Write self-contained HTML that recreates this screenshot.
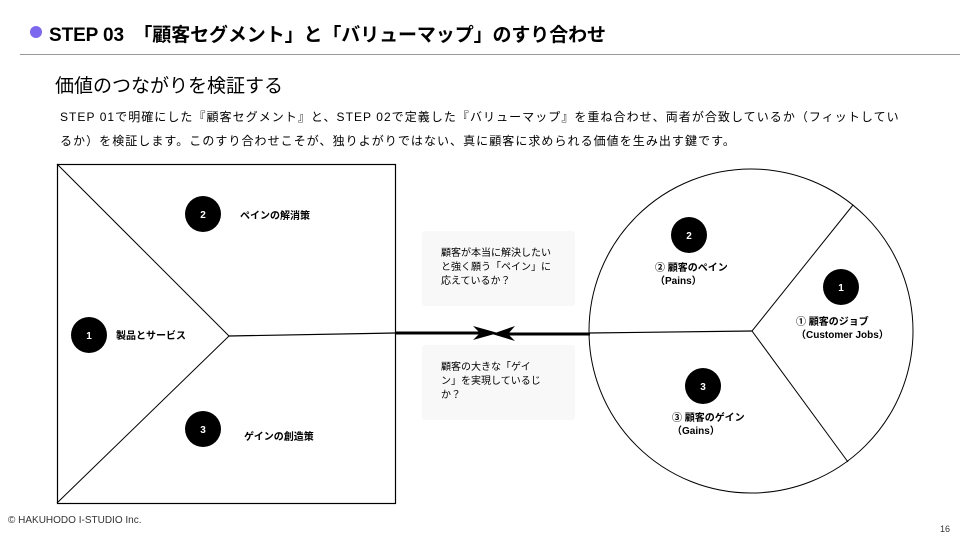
<!DOCTYPE html>
<html><head><meta charset="utf-8"><style>
body{margin:0;width:960px;height:540px;background:#fff;font-family:"Liberation Sans","Noto Sans CJK JP",sans-serif;position:relative;overflow:hidden;color:#000}
.a{position:absolute;white-space:nowrap}
</style></head><body>
<div class="a" style="left:30px;top:26px;width:12px;height:12px;border-radius:50%;background:#7b68ee"></div>
<div class="a" style="left:49px;top:20px;font-size:19px;font-weight:bold;letter-spacing:-0.1px">STEP 03　「顧客セグメント」と「バリューマップ」のすり合わせ</div>
<div class="a" style="left:20px;top:54px;width:948px;height:1px;background:#999"></div>
<div class="a" style="left:55px;top:71px;font-size:19px">価値のつながりを検証する</div>
<div class="a" style="left:60px;top:105px;font-size:12px;line-height:24px;letter-spacing:1.05px">STEP 01で明確にした『顧客セグメント』と、STEP 02で定義した『バリューマップ』を重ね合わせ、両者が合致しているか（フィットしてい<br>るか）を検証します。このすり合わせこそが、独りよがりではない、真に顧客に求められる価値を生み出す鍵です。</div>
<div class="a" style="left:422px;top:231px;width:153px;height:75px;background:#f8f8f8;border-radius:3px"></div>
<div class="a" style="left:422px;top:345px;width:153px;height:75px;background:#f8f8f8;border-radius:3px"></div>
<div class="a" style="left:441px;top:247px;font-size:10px;line-height:14px">顧客が本当に解決したい<br>と強く願う「ペイン」に<br>応えているか？</div>
<div class="a" style="left:441px;top:361px;font-size:10px;line-height:14px">顧客の大きな「ゲイ<br>ン」を実現しているじ<br>か？</div>
<svg class="a" style="left:0;top:0" width="960" height="540">
<rect x="57.5" y="164.5" width="338" height="339" fill="none" stroke="#000" stroke-width="1.2"/>
<polyline points="57,164 229,336 57,503" fill="none" stroke="#000" stroke-width="1"/>
<line x1="229" y1="336" x2="395" y2="333" stroke="#000" stroke-width="1.2"/>
<circle cx="751" cy="331" r="162" fill="none" stroke="#000" stroke-width="1"/>
<polyline points="853,205 752,331 848,462" fill="none" stroke="#000" stroke-width="1"/>
<line x1="752" y1="331" x2="589" y2="333" stroke="#000" stroke-width="1.2"/>
<line x1="396" y1="333" x2="485" y2="333" stroke="#000" stroke-width="3"/>
<line x1="590" y1="334" x2="505" y2="334" stroke="#000" stroke-width="3"/>
<polygon points="473,326 498,333 473,340 480,333" fill="#000"/>
<polygon points="515,326 492,334 515,341 508,334" fill="#000"/>
<g fill="#000"><circle cx="203" cy="214" r="18"/><circle cx="89" cy="335" r="18"/><circle cx="203" cy="429" r="18"/>
<circle cx="689" cy="235" r="18"/><circle cx="841" cy="287" r="18"/><circle cx="703" cy="386" r="18"/></g>
<g fill="#fff" font-size="10" font-weight="bold" text-anchor="middle" font-family="Liberation Sans, sans-serif">
<text x="203" y="218">2</text><text x="89" y="339">1</text><text x="203" y="433">3</text>
<text x="689" y="239">2</text><text x="841" y="291">1</text><text x="703" y="390">3</text></g>
</svg>
<div class="a" style="left:240px;top:207px;font-size:10px;font-weight:bold">ペインの解消策</div>
<div class="a" style="left:116px;top:327px;font-size:10px;font-weight:bold">製品とサービス</div>
<div class="a" style="left:244px;top:428px;font-size:10px;font-weight:bold">ゲインの創造策</div>
<div class="a" style="left:655px;top:262px;font-size:10px;font-weight:bold;line-height:13px">② 顧客のペイン<br>（Pains）</div>
<div class="a" style="left:796px;top:316px;font-size:10px;font-weight:bold;line-height:13px">① 顧客のジョブ<br>（Customer Jobs）</div>
<div class="a" style="left:672px;top:412px;font-size:10px;font-weight:bold;line-height:13px">③ 顧客のゲイン<br>（Gains）</div>
<div class="a" style="left:8px;top:515px;font-size:10px;color:#333">© HAKUHODO I-STUDIO Inc.</div>
<div class="a" style="left:940px;top:524px;font-size:9px;color:#333">16</div>
</body></html>
